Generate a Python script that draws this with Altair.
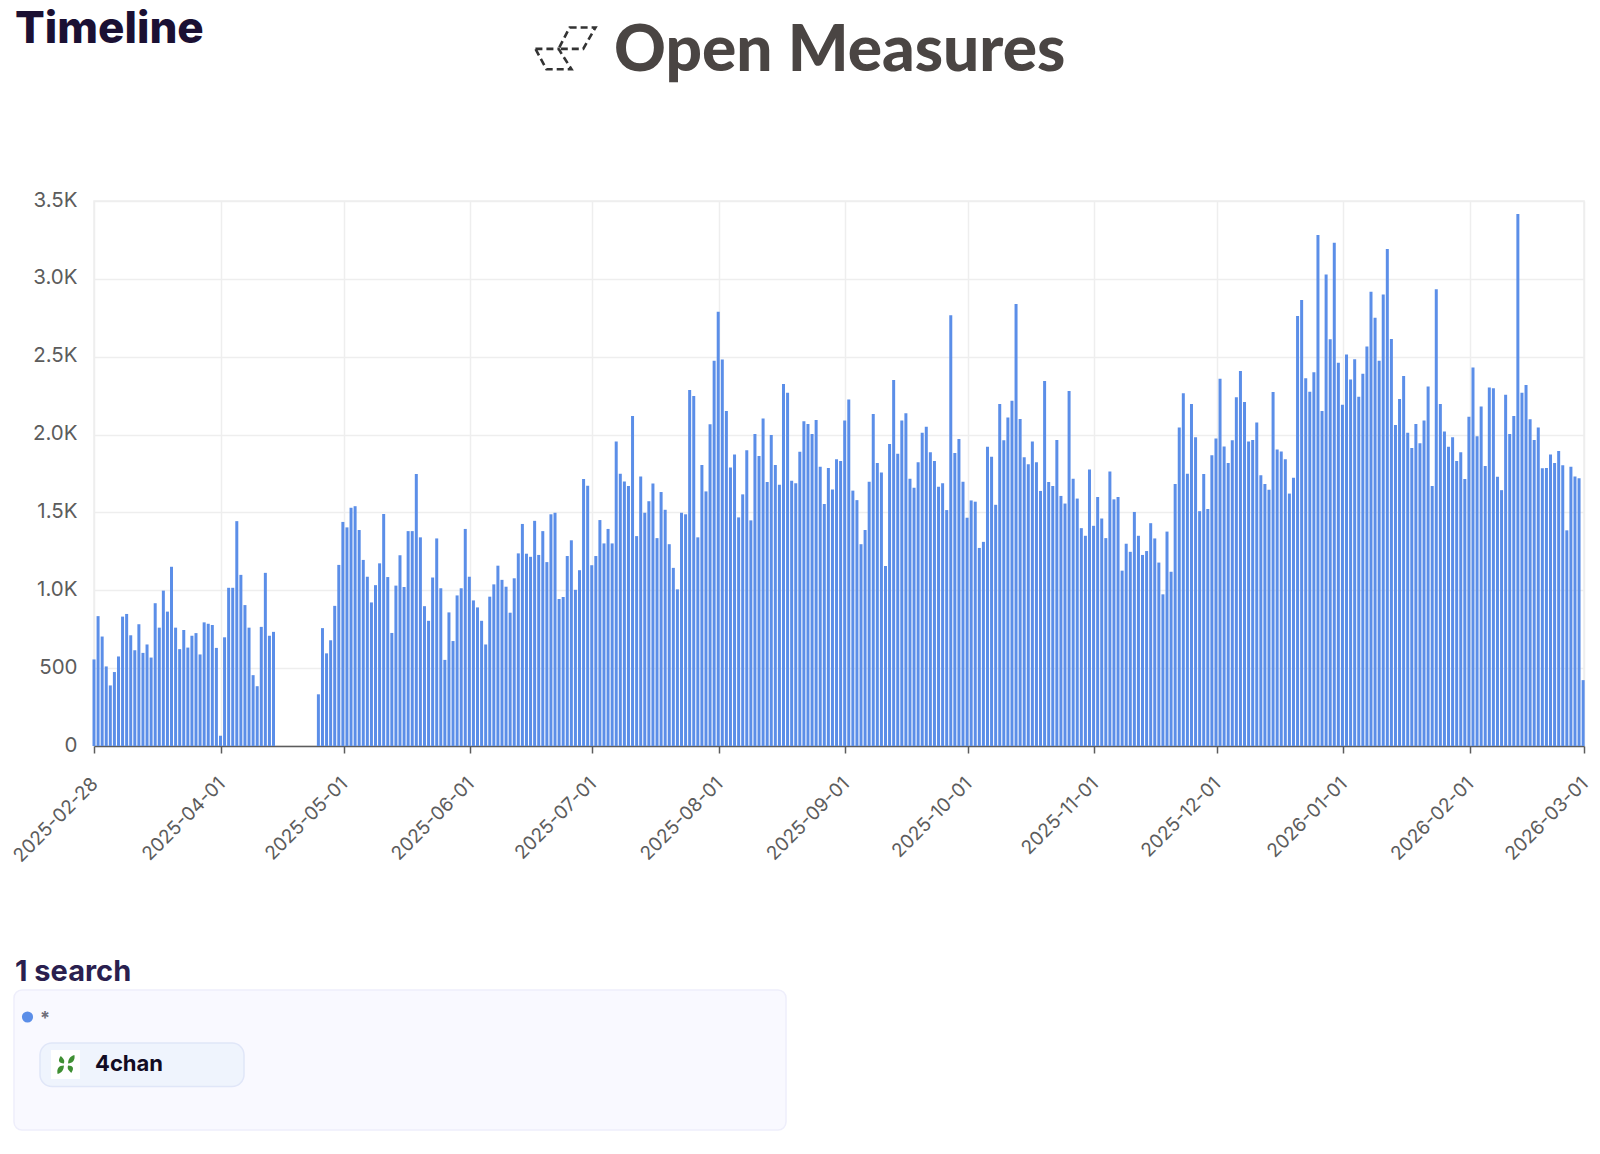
import altair as alt
import pandas as pd

# ---- values ----
counts_a = [556,834,703,511,389,475,575,831,848,711,615,782,598,652,568,917,760,998,863,1151,
            760,622,745,632,708,725,588,794,785,777,630,66,698,1016,1016,1444,1099,905,760,455,
            384,765,1112,708,733]
missing_days = 10
counts_b = [332,757,595,679,900,1163,1439,1404,1530,1540,1387,1195,1087,922,1033,1173,1490,1085,726,1030,
            1225,1021,1380,1380,1746,1340]
counts_c = [898,804,1082,1333,1013,553,858,674,967,1013,1394,1087,935,890,804,652,959,1038,1158,1067,
            1023,856,1077,1237,1426,1235,1215,1446,1227,1380,1181,1488,1498,944,957,1220,1321,1003,1129,1714,
            1672,1161,1220,1451,1301,1394,1301,1955,1749,1699,1670,2120,1348,1731,1498,1572,1685,1335,1631,1517,
            1296,1144,1006,1498,1488,2287,2248,1340,1805,1635,2066,2474,2789,2482,2152,1788,1872,1468,1616,1899,
            1449,2004,1862,2103,1695,1997,1805,1677,2324,2268,1704,1687,1889,2086,2068,2004,2093,1793]
counts_d = [1554,1786,1648,1842,1830,2091,2226,1640,1579,1296,1387,1697,2132,1818,1756,1156,1940,2351,1877,2091,
            2137,1717,1658,1822,2012,2051,1886,1830,1665,1687,1515,2767,1881,1972,1697,1466,1577,1569,1272,1311,
            1921,1857,1549,2196,1963,2110,2218,2838,2100,1854,1810,1955,1822,1638,2344,1695,1670,1965,1606,1557,
            2280,1717,1589,1399,1350,1776,1414,1599,1461,1335,1763,1584,1599,1126,1299,1247,1503,1350,1227,1252,
            1431,1333,1178,974,1377,1119,1682,2046,2265,1749,2196,1982,1508,1746,1522,1867,1975,2359]
counts_e = [1923,1818,1963,2240,2408,2209,1955,1965,2078,1739,1682,1645,2273,1904,1891,1842,1621,1722,2762,2865,
            2361,2275,2400,3281,2152,3028,2612,3232,2462,2191,2514,2354,2484,2243,2391,2565,2917,2750,2474,2900,
            3192,2614,2061,2228,2376,2012,1913,2068,1945,2091,2309,1670,2934,2196,2019,1921,1982,1830,1886,1714,
            2115,2430,1990,2181,1798,2302,2297,1729,1643,2255,2004,2120,3416,2268,2319,2098,1965,2046,1783,1786,
            1872,1818,1894,1803,1385,1793,1731,1719,423]
month_ticks = ["2025-04-01","2025-05-01","2025-06-01","2025-07-01","2025-08-01","2025-09-01",
               "2025-10-01","2025-11-01","2025-12-01","2026-01-01","2026-02-01"]
y_ticks = [0,500,1000,1500,2000,2500,3000,3500]
domain_start = "2025-02-28 20:00"
domain_end = "2026-03-01 01:00"

BAR = "#5b8ee8"
GRID = "#eeeeee"
AXIS = "#5c5c5c"
FONT = "Inter"

def ms(s):
    return int(pd.Timestamp(s, tz="UTC").timestamp() * 1000)

values = counts_a + [None] * missing_days + counts_b + counts_c + counts_d + counts_e
stamps = pd.date_range(domain_start, periods=len(values), freq="D", tz="UTC")
df = pd.DataFrame({"t": [s.strftime("%Y-%m-%dT%H:%M:%SZ") for s in stamps], "n": values}).dropna()

tick_values = [ms(domain_start)] + [ms(d) for d in month_ticks] + [ms(domain_end)]

PW, PH = 1490, 545
X0, Y0 = 94, 201   # page position of plot origin

bars = alt.Chart(df).mark_bar(color=BAR, width=3).encode(
    x=alt.X("t:T", title=None,
            scale=alt.Scale(type="utc", domain=[ms(domain_start), ms(domain_end)], padding=0),
            axis=alt.Axis(values=tick_values, labelExpr="utcFormat(datum.value,'%Y-%m-%d')",
                          labelAngle=315, labelAlign="right", labelBaseline="top",
                          labelFont=FONT, labelFontSize=19, labelColor=AXIS, labelPadding=21,
                          labelOffset=-6,
                          labelOverlap=False, labelBound=False, labelFlush=False,
                          tickColor=AXIS, tickSize=7, tickWidth=1.5,
                          domainColor=AXIS, domainWidth=1.5,
                          grid=True, gridColor=GRID, gridWidth=1.5)),
    y=alt.Y("n:Q", title=None,
            scale=alt.Scale(domain=[0, 3500], nice=False),
            axis=alt.Axis(values=y_ticks,
                          labelExpr="datum.value>=1000 ? format(datum.value/1000,'.1f')+'K' : format(datum.value,'d')",
                          labelFont=FONT, labelFontSize=20.5, labelColor=AXIS, labelPadding=17,
                          labelOffset=-1,
                          tickSize=0, domain=False, grid=True, gridColor=GRID, gridWidth=1.5)),
)

one = pd.DataFrame({"k": [0]})

def px(x): return alt.value(x - X0)
def py(y): return alt.value(y - Y0)

def text(s, x, y, size, color, weight=700, font="Inter", align="left", baseline="alphabetic"):
    return alt.Chart(one).mark_text(text=s, font=font, fontSize=size, fontWeight=weight, color=color,
                                    align=align, baseline=baseline).encode(x=px(x), y=py(y))

def box(x1, y1, x2, y2, fill, stroke, radius, width=1.5):
    return alt.Chart(one).mark_rect(fill=fill, stroke=stroke, strokeWidth=width, cornerRadius=radius).encode(
        x=px(x1), x2=px(x2), y=py(y1), y2=py(y2))

def glyph(path, x, y, size, **kw):
    return alt.Chart(one).mark_point(shape=path, size=size, **kw).encode(x=px(x), y=py(y))

logo_path = ("M0.15 -0.675 L0.99 -0.675 L0.59 0.02 L-0.21 0.02 Z "
             "M-0.96 0.02 L-0.21 0.02 L0.21 0.68 L-0.60 0.68 Z")
clover_path = ("M-0.2 -0.1 C-0.7 -0.1 -0.8 -0.4 -0.5 -0.8 C-0.2 -0.5 -0.1 -0.4 -0.2 -0.1 Z "
               "M0.2 -0.1 C0.2 -0.5 0.4 -0.8 0.8 -0.9 C0.9 -0.4 0.6 -0.1 0.2 -0.1 Z "
               "M-0.2 0.1 C-0.7 0.1 -0.9 0.4 -0.8 0.9 C-0.4 0.8 -0.2 0.5 -0.2 0.1 Z "
               "M0.2 0.1 C0.7 0.1 0.8 0.4 0.5 0.8 C0.2 0.5 0.1 0.4 0.2 0.1 Z")

decor = [
    text("Timeline", 15, 43, 44, "#1b1033", weight=800),
    text("Open Measures", 614, 71, 64, "#4a4543", weight=900, font="Lato"),
    glyph(logo_path, 565, 48.3, 3800, filled=False, color="#333333", strokeWidth=2.6, strokeDash=[7, 4], opacity=1),
    text("1 search", 15, 981, 29, "#2a1f4f", weight=700),
    box(14, 990, 786, 1130, "#f9f9ff", "#eeeefb", 8),
    alt.Chart(one).mark_circle(size=125, color=BAR, opacity=1).encode(x=px(27.5), y=py(1017)),
    text("*", 40, 1024, 18, "#6f6f7a", weight=700),
    box(40, 1043, 244, 1086.5, "#eff4fd", "#e0e6f8", 12),
    box(51, 1050, 80, 1079, "#ffffff", "#ffffff", 0, width=0),
    glyph(clover_path, 66, 1064.5, 441, filled=True, color="#3f8f33", opacity=1, strokeWidth=0),
    text("4chan", 95, 1071, 22, "#120b23", weight=700),
]

chart = alt.layer(bars, *decor).properties(
    width=PW, height=PH,
    padding={"left": X0 - 8, "top": Y0 - 8, "right": 8, "bottom": 392},
    autosize=alt.AutoSizeParams(type="none"),
    background="#ffffff",
).configure_view(stroke=GRID, strokeWidth=1.5)

chart.save("out.html", embed_options={"renderer": "svg", "actions": False})
